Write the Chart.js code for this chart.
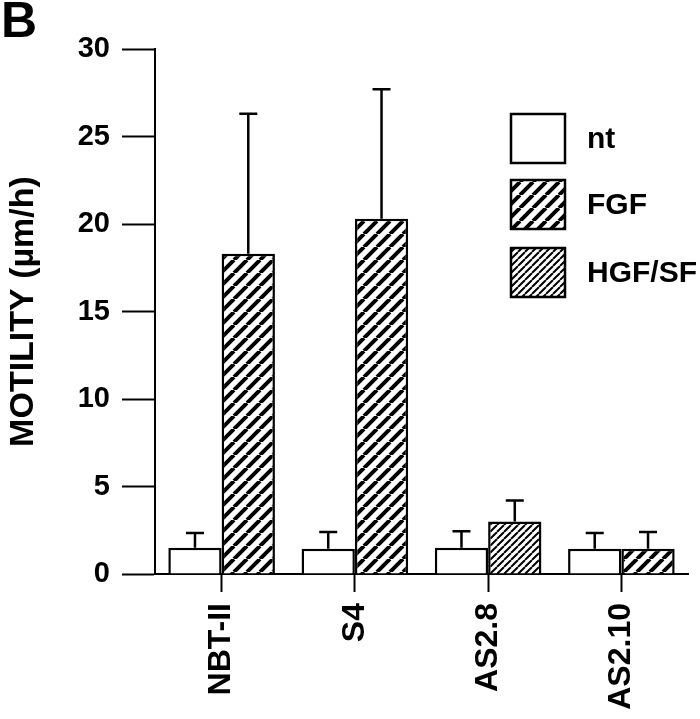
<!DOCTYPE html>
<html>
<head>
<meta charset="utf-8">
<script src="https://cdn.jsdelivr.net/npm/chart.js@4"></script>
<style>
  html, body { margin: 0; background: #fff; }
  #wrap { width: 700px; height: 719px; }
</style>
</head>
<body>
<div id="wrap"><canvas id="motility" width="700" height="719"></canvas></div>
<script>
// motility per cell line, mean and SD
const CELL_LINES = ["NBT-II", "S4", "AS2.8", "AS2.10"];
const SERIES     = ["nt", "FGF", "HGF/SF"];
const NT_MEAN    = [1.5, 1.45, 1.5, 1.45];
const NT_SD      = [0.85, 0.95, 0.95, 0.9];
const FGF_MEAN   = [18.3, 20.3, null, 1.45];
const FGF_SD     = [8.0, 7.4, null, 0.95];
const HGF_MEAN   = [null, null, 3.0, null];
const HGF_SD     = [null, null, 1.2, null];
const Y_TICKS    = [0, 5, 10, 15, 20, 25, 30];

const FONT = "'Liberation Sans', Arial, Helvetica, sans-serif";
const canvas = document.getElementById("motility");
const ctx = canvas.getContext("2d");

// diagonal "/" hatching
function hatch(period, width) {
  const c = document.createElement("canvas");
  c.width = c.height = period;
  const g = c.getContext("2d");
  g.fillStyle = "#fff";
  g.fillRect(0, 0, period, period);
  g.strokeStyle = "#000";
  g.lineWidth = width;
  g.beginPath();
  for (const k of [-period, 0, period]) {
    g.moveTo(k, period);
    g.lineTo(k + period, 0);
  }
  g.stroke();
  return ctx.createPattern(c, "repeat");
}

const errorBars = {
  id: "errorBars",
  afterDatasetsDraw(chart) {
    const { ctx, scales: { y } } = chart;
    ctx.save();
    ctx.strokeStyle = "#000";
    ctx.lineWidth = 2.5;
    chart.data.datasets.forEach((ds, i) => {
      const meta = chart.getDatasetMeta(i);
      ds.data.forEach((v, j) => {
        const e = ds.errors[j];
        if (v == null || e == null) return;
        const bar = meta.data[j];
        const top = y.getPixelForValue(v + e);
        ctx.beginPath();
        ctx.moveTo(bar.x, bar.y);
        ctx.lineTo(bar.x, top);
        ctx.moveTo(bar.x - 9, top);
        ctx.lineTo(bar.x + 9, top);
        ctx.stroke();
      });
    });
    ctx.restore();
  }
};

// legend boxes stacked inside the plot, top right
const LEG_X = 511, LEG_TOPS = [114, 180, 248], BOX_W = 54, BOX_H = 49;
const boxLegend = {
  id: "boxLegend",
  afterDraw(chart) {
    const { ctx } = chart;
    ctx.save();
    chart.data.datasets.forEach((ds, i) => {
      const top = LEG_TOPS[i];
      ctx.fillStyle = ds.backgroundColor;
      ctx.fillRect(LEG_X, top, BOX_W, BOX_H);
      ctx.lineWidth = 2.5;
      ctx.strokeStyle = "#000";
      ctx.strokeRect(LEG_X, top, BOX_W, BOX_H);
      ctx.fillStyle = "#000";
      ctx.font = "bold 30px " + FONT;
      ctx.textBaseline = "middle";
      ctx.fillText(ds.label, LEG_X + BOX_W + 22, top + BOX_H / 2 + 1);
    });
    ctx.restore();
  }
};

const barStyle = {
  borderColor: "#000",
  borderWidth: 2.5,
  barPercentage: 1,
  categoryPercentage: 0.8,
};

new Chart(ctx, {
  type: "bar",
  data: {
    labels: CELL_LINES,
    datasets: [
      { ...barStyle, label: SERIES[0], data: NT_MEAN, errors: NT_SD, stack: "nt", backgroundColor: "#fff" },
      { ...barStyle, label: SERIES[1], data: FGF_MEAN, errors: FGF_SD, stack: "treated", backgroundColor: hatch(13, 4) },
      { ...barStyle, label: SERIES[2], data: HGF_MEAN, errors: HGF_SD, stack: "treated", backgroundColor: hatch(7, 2) },
    ],
  },
  options: {
    responsive: false,
    animation: false,
    layout: { padding: { left: 1, right: 12, top: 0, bottom: 0 } },
    plugins: {
      legend: { display: false },
      tooltip: { enabled: false },
      title: {
        display: true,
        text: "B",
        align: "start",
        color: "#000",
        font: { family: FONT, size: 50, weight: "bold", lineHeight: 0.9 },
        padding: { top: 1, bottom: 3 },
      },
    },
    scales: {
      x: {
        stacked: true,
        grid: { offset: false, drawOnChartArea: false, tickLength: 18, tickWidth: 2, tickColor: "#000" },
        border: { color: "#000", width: 2 },
        ticks: {
          color: "#000",
          font: { family: FONT, size: 32, weight: "bold" },
          minRotation: 90,
          maxRotation: 90,
          padding: 11,
        },
        afterFit: (s) => { s.height = 145; s.paddingLeft = 0; s.paddingRight = 0; },
      },
      y: {
        stacked: true,
        min: 0,
        max: 30,
        afterBuildTicks: (s) => { s.ticks = Y_TICKS.map((v) => ({ value: v })); },
        grid: { drawOnChartArea: false, tickLength: 33, tickWidth: 2, tickColor: "#000" },
        border: { color: "#000", width: 2 },
        ticks: {
          color: "#000",
          font: { family: FONT, size: 29, weight: "bold" },
          padding: 12,
        },
        title: {
          display: true,
          text: "MOTILITY (µm/h)",
          color: "#000",
          font: { family: FONT, size: 34, weight: "bold" },
          padding: { top: 2, bottom: 4 },
        },
        afterFit: (s) => { s.width = 154; },
      },
    },
  },
  plugins: [errorBars, boxLegend],
});
</script>
</body>
</html>
